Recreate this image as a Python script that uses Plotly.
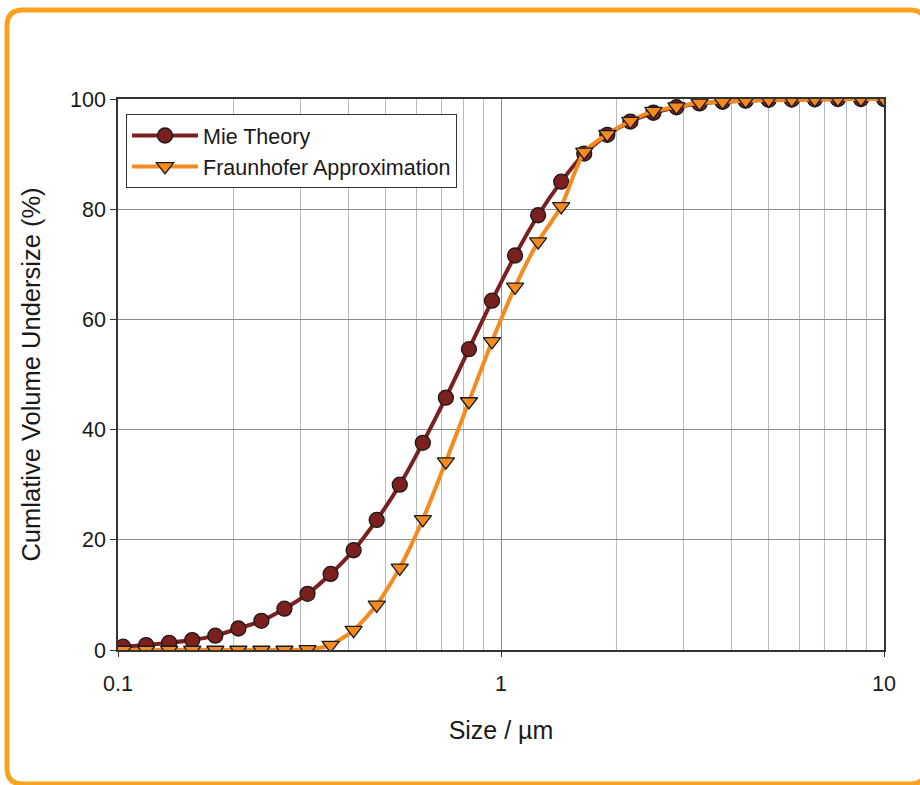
import plotly.graph_objects as go

size_um = [0.1031, 0.1184, 0.1360, 0.15625, 0.1795, 0.2062, 0.2368, 0.2720, 0.3125,
           0.3590, 0.4123, 0.4737, 0.5441, 0.625, 0.7179, 0.8247, 0.9473, 1.0882,
           1.25, 1.4359, 1.6494, 1.8946, 2.1764, 2.5, 2.8717, 3.2988, 3.7893,
           4.3528, 5.0, 5.7435, 6.5975, 7.5786, 8.7055, 10.0]

mie = [0.6, 0.9, 1.3, 1.8, 2.6, 3.9, 5.3, 7.5, 10.2,
       13.8, 18.1, 23.6, 30.0, 37.6, 45.8, 54.6, 63.4, 71.6,
       78.9, 85.0, 90.1, 93.5, 95.9, 97.5, 98.5, 99.2, 99.5,
       99.7, 99.85, 99.9, 99.95, 100.0, 100.0, 100.0]

fraunhofer = [0.0, 0.0, 0.0, 0.0, 0.0, 0.0, 0.0, 0.0, 0.1,
              0.9, 3.6, 8.2, 14.9, 23.7, 34.2, 45.1, 56.0, 65.9,
              74.1, 80.5, 90.4, 93.6, 96.0, 97.8, 98.6, 99.3, 99.5,
              99.7, 99.85, 99.9, 99.95, 100.0, 100.0, 100.0]

x_ticks = [0.1, 1, 10]
x_tick_text = ["0.1", "1", "10"]
x_minor = [0.2, 0.3, 0.4, 0.5, 0.6, 0.7, 0.8, 0.9, 2, 3, 4, 5, 6, 7, 8, 9]

W, H = 920, 785
L, R, T, B = 118, 884, 99, 650

fig = go.Figure()
fig.add_trace(go.Scatter(
    x=size_um, y=mie, name="Mie Theory", mode="lines+markers",
    line=dict(color="#7B1F1F", width=4, shape="spline", smoothing=0.6),
    marker=dict(symbol="circle", size=15, color="#7B1F1F",
                line=dict(color="#1a1a1a", width=1.3)),
))
fig.add_trace(go.Scatter(
    x=size_um, y=fraunhofer, name="Fraunhofer Approximation", mode="lines+markers",
    line=dict(color="#F58A1F", width=4, shape="spline", smoothing=0.6),
    marker=dict(symbol="triangle-down", size=15, color="#F58A1F",
                line=dict(color="#1a1a1a", width=1.3)),
))

def px(xp):
    return (xp - L) / (R - L)

def py(yp):
    return (B - yp) / (B - T)

# rounded orange frame around the figure
x0, x1, y0, y1, r = 7, 926, 10, 784, 16
rx = r / (R - L)
ry = r / (B - T)
path = (f"M {px(x0)+rx},{py(y0)} L {px(x1)-rx},{py(y0)} "
        f"Q {px(x1)},{py(y0)} {px(x1)},{py(y0)-ry} "
        f"L {px(x1)},{py(y1)+ry} Q {px(x1)},{py(y1)} {px(x1)-rx},{py(y1)} "
        f"L {px(x0)+rx},{py(y1)} Q {px(x0)},{py(y1)} {px(x0)},{py(y1)+ry} "
        f"L {px(x0)},{py(y0)-ry} Q {px(x0)},{py(y0)} {px(x0)+rx},{py(y0)} Z")
fig.add_shape(type="path", path=path, xref="paper", yref="paper",
              line=dict(color="#F8A21E", width=5), layer="below")

font_fam = "Liberation Sans, Arial, sans-serif"
fig.update_layout(
    width=W, height=H,
    margin=dict(l=L, r=W - R, t=T, b=H - B, pad=0),
    paper_bgcolor="white", plot_bgcolor="white",
    font=dict(family=font_fam, color="#1a1a1a", size=21),
    showlegend=True,
    legend=dict(x=px(126), y=py(114), xanchor="left", yanchor="top",
                bgcolor="white", bordercolor="#333333", borderwidth=1,
                font=dict(size=21.5, family=font_fam, color="#1a1a1a"),
                tracegroupgap=0, itemwidth=66),
    xaxis=dict(
        type="log", range=[-1, 1],
        tickmode="array", tickvals=x_ticks, ticktext=x_tick_text,
        ticks="outside", ticklen=5, tickcolor="#333333",
        ticklabelstandoff=8,
        tickfont=dict(size=21.5),
        showline=True, linecolor="#333333", linewidth=1.5, mirror=True,
        showgrid=True, gridcolor="#8c8c8c", gridwidth=1,
        minor=dict(tickvals=x_minor, showgrid=True, gridcolor="#b3bcc5",
                   gridwidth=1, ticks=""),
        title=dict(text="Size / µm", font=dict(size=25), standoff=27),
        zeroline=False,
    ),
    yaxis=dict(
        range=[0, 100], tickmode="array", tickvals=[0, 20, 40, 60, 80, 100],
        ticks="outside", ticklen=6, tickcolor="#333333",
        tickfont=dict(size=21.5),
        showline=True, linecolor="#333333", linewidth=1.5, mirror=True,
        showgrid=True, gridcolor="#8c8c8c", gridwidth=1,
        title=dict(text="Cumlative Volume Undersize (%)", font=dict(size=25.5), standoff=22),
        zeroline=False,
    ),
)

fig.write_html("out.html")
